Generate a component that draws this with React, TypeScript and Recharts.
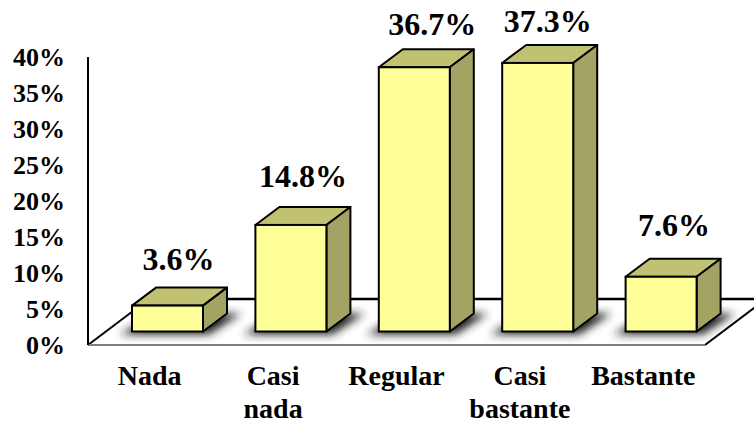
// Pseudo-3D bar chart: Recharts scales the bars, the custom shape extrudes them.
import { BarChart, Bar, XAxis, YAxis, LabelList, usePlotArea } from 'recharts';

const categories = ['Nada', 'Casi nada', 'Regular', 'Casi bastante', 'Bastante'];
const values = [3.6, 14.8, 36.7, 37.3, 7.6];
const yTicks = [0, 5, 10, 15, 20, 25, 30, 35, 40];

const data = categories.map((name, i) => ({ name, value: values[i] }));

const SERIF = '"Liberation Serif", "Times New Roman", serif';

// Where the bars sit on the floor, relative to their band
const BAR_DX = 18;
const BAR_DY = -13.5;
// Extrusion of each bar and of the floor
const DEPTH_X = 24;
const DEPTH_Y = 18;
const FLOOR_X = 61;
const FLOOR_Y = 46;

// The labels in the picture aren't placed evenly over the bars
const LABEL_NUDGE = [
  [11, -13],
  [12, -15],
  [18, -9],
  [10, -8],
  [13, -18],
];

function Floor() {
  const plot = usePlotArea();
  if (!plot) return null;
  const bottom = plot.y + plot.height;
  const left = plot.x;
  const right = plot.x + plot.width;
  return (
    <g>
      <polygon
        points={`${left},${bottom} ${right},${bottom} ${right + FLOOR_X},${bottom - FLOOR_Y} ${left + FLOOR_X},${bottom - FLOOR_Y}`}
        fill="#fff"
      />
      <line x1={left + FLOOR_X} y1={bottom - FLOOR_Y} x2={right + FLOOR_X} y2={bottom - FLOOR_Y} stroke="#000" strokeWidth={2.5} />
      <line x1={left} y1={bottom} x2={left + FLOOR_X} y2={bottom - FLOOR_Y} stroke="#000" strokeWidth={2} />
      <line x1={right} y1={bottom} x2={right + FLOOR_X} y2={bottom - FLOOR_Y} stroke="#000" strokeWidth={2} />
      <line x1={left} y1={bottom} x2={right} y2={bottom} stroke="#808080" strokeWidth={2} />
    </g>
  );
}

function Bar3D({ x, y, width, height }: any) {
  const l = x + BAR_DX;
  const r = l + width;
  const t = y + BAR_DY;
  const b = t + height;
  return (
    <g>
      <polygon
        points={`${l - 12},${b + 3} ${r + 6},${b + 3} ${r + DEPTH_X + 14},${b - DEPTH_Y} ${l + DEPTH_X},${b - DEPTH_Y}`}
        fill="#222"
        filter="url(#bar-shadow)"
      />
      <polygon
        points={`${l},${t} ${r},${t} ${r + DEPTH_X},${t - DEPTH_Y} ${l + DEPTH_X},${t - DEPTH_Y}`}
        fill="#C1C172"
        stroke="#000"
        strokeWidth={2}
        strokeLinejoin="round"
      />
      <polygon
        points={`${r},${t} ${r + DEPTH_X},${t - DEPTH_Y} ${r + DEPTH_X},${b - DEPTH_Y} ${r},${b}`}
        fill="#A3A363"
        stroke="#000"
        strokeWidth={2}
        strokeLinejoin="round"
      />
      <rect x={l} y={t} width={width} height={height} fill="#FFFF99" stroke="#000" strokeWidth={2} />
    </g>
  );
}

function CategoryTick({ x, y, payload }: any) {
  const lines = String(payload.value).split(' ');
  return (
    <text x={x} textAnchor="middle" fontFamily={SERIF} fontWeight="bold" fontSize={28} fill="#000">
      {lines.map((line, i) => (
        <tspan key={line} x={x} y={y + 32 + i * 33}>
          {line}
        </tspan>
      ))}
    </text>
  );
}

function ValueLabel({ x, y, width, value, index }: any) {
  const [dx, dy] = LABEL_NUDGE[index];
  return (
    <text
      x={x + BAR_DX + width / 2 + dx}
      y={y + BAR_DY - 23 + dy}
      textAnchor="middle"
      fontFamily={SERIF}
      fontWeight="bold"
      fontSize={32}
      fill="#000"
    >
      {value.toFixed(1)}%
    </text>
  );
}

export default function App() {
  return (
    <div style={{ position: 'absolute', left: 0, top: 0, width: 754, height: 422, background: '#fff' }}>
      <BarChart width={754} height={422} data={data} margin={{ top: 57, right: 49, bottom: 0, left: 0 }}>
        <defs>
          <filter id="bar-shadow" x="-30%" y="-60%" width="160%" height="220%">
            <feGaussianBlur stdDeviation="4" />
          </filter>
        </defs>
        <Floor />
        <XAxis
          dataKey="name"
          height={77}
          axisLine={false}
          tickLine={false}
          interval={0}
          tick={<CategoryTick />}
        />
        <YAxis
          width={88}
          domain={[0, 40]}
          ticks={yTicks}
          tickFormatter={(v: number) => `${v}%`}
          axisLine={{ stroke: '#000', strokeWidth: 2 }}
          tickLine={false}
          tickMargin={17}
          tick={{ fontFamily: SERIF, fontWeight: 'bold', fontSize: 26, fill: '#000' }}
        />
        <Bar dataKey="value" barSize={71} shape={<Bar3D />} isAnimationActive={false}>
          <LabelList dataKey="value" content={<ValueLabel />} />
        </Bar>
      </BarChart>
    </div>
  );
}
